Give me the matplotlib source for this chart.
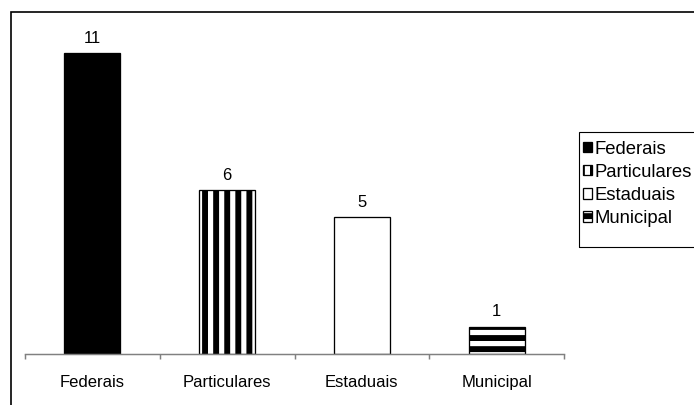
import matplotlib
matplotlib.use("Agg")
import matplotlib.pyplot as plt
from matplotlib.patches import Rectangle

# Data
categories = ["Federais", "Particulares", "Estaduais", "Municipal"]
values = [11, 6, 5, 1]
fills = ["black", "white", "white", "white"]
hatches = [None, "||", None, "--"]

DPI = 133
W, H = 694, 405

plt.rcParams["font.family"] = ["Liberation Sans", "DejaVu Sans"]
plt.rcParams["font.size"] = 9
plt.rcParams["hatch.linewidth"] = 3.2
plt.rcParams["hatch.color"] = "black"

fig = plt.figure(figsize=(W / DPI, H / DPI), dpi=DPI)
ax = fig.add_axes([25 / W, 1 - 354 / H, 539 / W, 328 / H])

x = list(range(len(categories)))
bars = ax.bar(x, values, width=0.415, color=fills, edgecolor="black", linewidth=0.7)
for b, h, cat in zip(bars, hatches, categories):
    if h:
        b.set_hatch(h)
    b.set_label(cat)

ax.bar_label(bars, labels=[str(v) for v in values], padding=4)

ax.set_xlim(-0.5, len(categories) - 0.5)
ax.set_ylim(0, 12)
for side in ("top", "left", "right"):
    ax.spines[side].set_visible(False)
ax.spines["bottom"].set_color("#808080")
ax.spines["bottom"].set_linewidth(0.8)
ax.set_yticks([])
ax.set_xticks(x, categories)
ax.set_xticks([i - 0.5 for i in range(len(categories) + 1)], minor=True)
ax.tick_params(axis="x", which="major", length=0, pad=11.5)
ax.tick_params(axis="x", which="minor", length=2.8, width=0.8, color="#808080")

# Legend on the right, with its own frame box
fig.legend(handles=list(bars), labels=categories, loc="upper left",
           bbox_to_anchor=(574 / W, 1 - 132 / H), borderaxespad=0,
           frameon=False, fontsize=10,
           handlelength=0.49, handleheight=0.49, handletextpad=0.17,
           labelspacing=0.33, borderpad=0.47)
fig.patches.append(Rectangle((579 / W, 1 - 247 / H), 0.2, 115 / H,
                             transform=fig.transFigure, fill=False,
                             edgecolor="black", linewidth=0.6))

# Outer chart border
fig.patches.append(Rectangle((11 / W, -0.02), 1.02, 1 - 12 / H + 0.02,
                             transform=fig.transFigure, fill=False,
                             edgecolor="black", linewidth=0.9))

fig.savefig("out.png", dpi=DPI)
